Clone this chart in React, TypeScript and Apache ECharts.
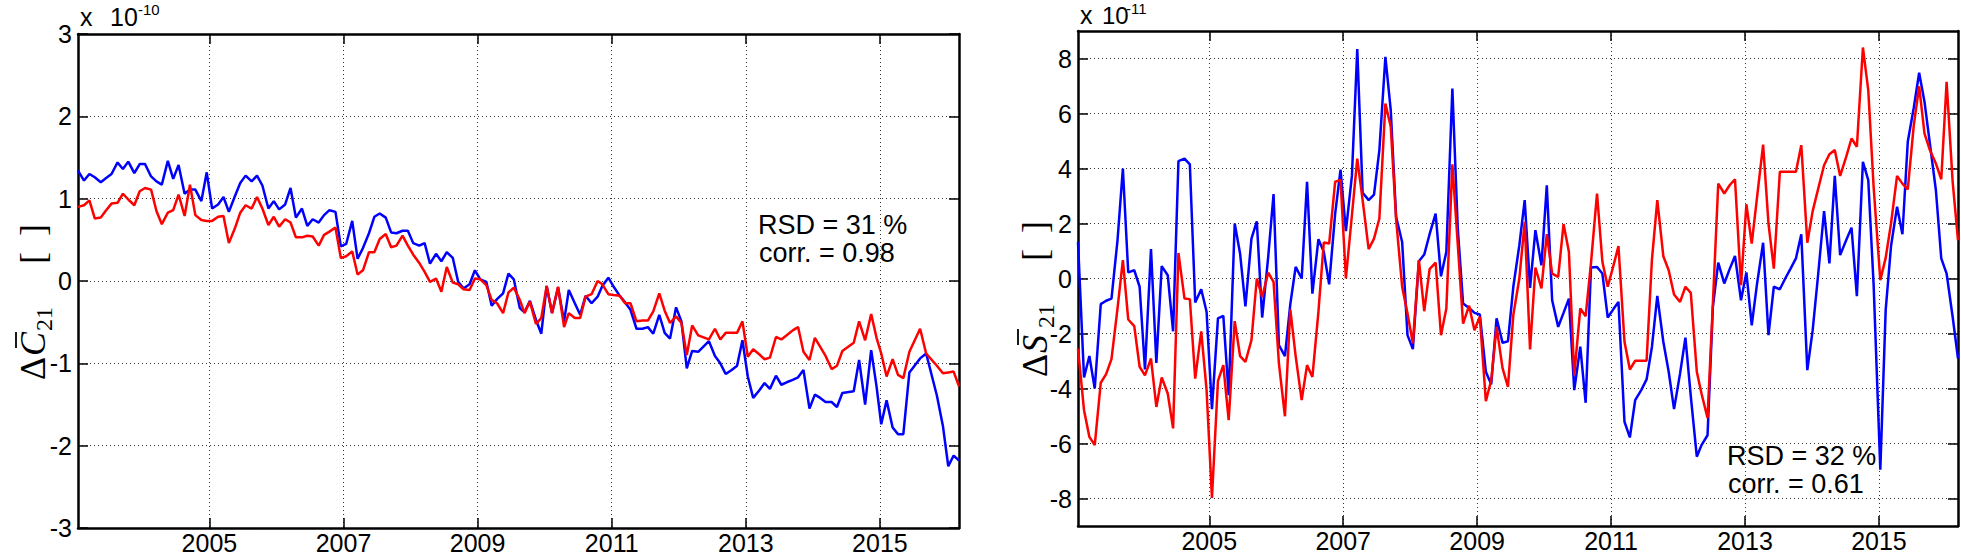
import React, { useEffect, useRef } from "react";
import * as echarts from "echarts";

// ---------- DATA ----------
const yearsEarly = [
  2003.04, 2003.13, 2003.21, 2003.29, 2003.38, 2003.46, 2003.54, 2003.63, 2003.71, 2003.79, 2003.88, 2003.96,
  2004.04, 2004.13, 2004.21, 2004.29, 2004.38, 2004.46, 2004.54, 2004.63, 2004.71, 2004.79, 2004.88, 2004.96,
  2005.04, 2005.13, 2005.21, 2005.29, 2005.38, 2005.46, 2005.54, 2005.63, 2005.71, 2005.79, 2005.88, 2005.96,
  2006.04, 2006.13, 2006.21, 2006.29, 2006.38, 2006.46, 2006.54, 2006.63, 2006.71, 2006.79, 2006.88, 2006.96,
  2007.04, 2007.13, 2007.21, 2007.29, 2007.38, 2007.46, 2007.54, 2007.63, 2007.71, 2007.79, 2007.88, 2007.96,
  2008.04, 2008.13, 2008.21, 2008.29, 2008.38, 2008.46, 2008.54, 2008.63, 2008.71, 2008.79, 2008.88, 2008.96,
  2009.04, 2009.13, 2009.21, 2009.29, 2009.38, 2009.46, 2009.54, 2009.63,
];

const yearsLateC = [
  2009.70, 2009.78, 2009.87, 2009.95, 2010.03, 2010.11, 2010.20, 2010.29, 2010.36, 2010.45,
  2010.53, 2010.61, 2010.70, 2010.79, 2010.86, 2010.95, 2011.03, 2011.12, 2011.20, 2011.28,
  2011.37, 2011.46, 2011.54, 2011.62, 2011.71, 2011.79, 2011.87, 2011.96, 2012.04, 2012.12,
  2012.20, 2012.29, 2012.45, 2012.54, 2012.62, 2012.70, 2012.79, 2012.87, 2012.95, 2013.03,
  2013.11, 2013.20, 2013.28, 2013.36, 2013.45, 2013.53, 2013.61, 2013.70, 2013.78, 2013.86,
  2013.95, 2014.03, 2014.11, 2014.19, 2014.28, 2014.36, 2014.44, 2014.61, 2014.69, 2014.78,
  2014.87, 2014.95, 2015.02, 2015.10, 2015.19, 2015.27, 2015.35, 2015.44, 2015.60, 2015.69,
  2015.85, 2015.94, 2016.02, 2016.10, 2016.18,
];

const yearsLateS = [
  2009.71, 2009.79, 2009.87, 2009.96, 2010.04, 2010.12, 2010.21, 2010.29, 2010.37, 2010.45,
  2010.54, 2010.62, 2010.70, 2010.79, 2010.87, 2010.95, 2011.03, 2011.11, 2011.20, 2011.28,
  2011.36, 2011.45, 2011.53, 2011.61, 2011.69, 2011.78, 2011.86, 2011.94, 2012.03, 2012.11,
  2012.19, 2012.28, 2012.35, 2012.44, 2012.52, 2012.60, 2012.69, 2012.77, 2012.85, 2012.94,
  2013.02, 2013.10, 2013.18, 2013.27, 2013.35, 2013.43, 2013.52, 2013.60, 2013.68, 2013.76,
  2013.84, 2013.93, 2014.01, 2014.09, 2014.18, 2014.26, 2014.34, 2014.42, 2014.51, 2014.59,
  2014.67, 2014.76, 2014.84, 2014.92, 2015.02, 2015.10, 2015.18, 2015.27, 2015.35, 2015.43,
  2015.52, 2015.60, 2015.68, 2015.76, 2015.85, 2015.93, 2016.01, 2016.10, 2016.18,
];

// Delta C21 (x 1e-10)
const c21Blue = [
  1.34, 1.22, 1.30, 1.26, 1.20, 1.25, 1.30, 1.44, 1.36, 1.45,
  1.31, 1.42, 1.42, 1.27, 1.21, 1.17, 1.46, 1.24, 1.41, 1.06,
  1.11, 1.11, 0.97, 1.32, 0.88, 0.93, 1.02, 0.84, 1.03, 1.19,
  1.28, 1.21, 1.28, 1.16, 0.88, 0.97, 0.87, 0.93, 1.13, 0.77,
  0.88, 0.67, 0.75, 0.71, 0.80, 0.86, 0.84, 0.42, 0.45, 0.73,
  0.27, 0.40, 0.58, 0.78, 0.82, 0.77, 0.59, 0.58, 0.61, 0.61,
  0.46, 0.43, 0.46, 0.21, 0.33, 0.24, 0.35, 0.28, -0.01, -0.09,
  -0.04, 0.13, 0.02, -0.01, -0.30, -0.22, -0.15, 0.09, 0.02, -0.33,
  -0.38, -0.24, -0.47, -0.64, -0.06, -0.39, -0.08, -0.49, -0.11, -0.27,
  -0.41, -0.18, -0.27, -0.19, -0.06, 0.04, -0.07, -0.18, -0.26, -0.35,
  -0.58, -0.58, -0.56, -0.64, -0.41, -0.63, -0.70, -0.32, -0.49, -1.06,
  -0.85, -0.86, -0.73, -0.91, -1.00, -1.13, -1.08, -1.03, -0.72, -1.16,
  -1.42, -1.33, -1.24, -1.31, -1.15, -1.26, -1.23, -1.20, -1.17, -1.08,
  -1.55, -1.38, -1.42, -1.47, -1.47, -1.53, -1.36, -1.34, -0.96, -1.50,
  -0.84, -1.28, -1.74, -1.45, -1.78, -1.86, -1.86, -1.11, -0.94, -0.88,
  -1.39, -1.76, -2.25, -2.12, -2.18,
];
const c21Red = [
  0.90, 0.92, 0.98, 0.76, 0.77, 0.86, 0.94, 0.95, 1.06, 0.99,
  0.92, 1.09, 1.13, 1.11, 0.85, 0.69, 0.83, 0.86, 1.05, 0.79,
  1.17, 0.80, 0.74, 0.73, 0.73, 0.78, 0.79, 0.46, 0.64, 0.83,
  0.92, 0.88, 1.02, 0.88, 0.68, 0.78, 0.66, 0.75, 0.71, 0.53,
  0.53, 0.55, 0.54, 0.43, 0.56, 0.60, 0.65, 0.28, 0.30, 0.36,
  0.08, 0.13, 0.35, 0.35, 0.51, 0.57, 0.41, 0.43, 0.55, 0.43,
  0.32, 0.22, 0.11, -0.01, 0.03, -0.13, 0.17, -0.02, -0.04, -0.10,
  -0.11, 0.03, 0.02, -0.05, -0.23, -0.27, -0.39, -0.14, -0.08, -0.23,
  -0.39, -0.25, -0.52, -0.45, -0.06, -0.39, -0.07, -0.56, -0.39, -0.45,
  -0.45, -0.19, -0.16, 0.00, -0.04, -0.16, -0.17, -0.18, -0.27, -0.27,
  -0.49, -0.48, -0.48, -0.37, -0.15, -0.36, -0.51, -0.43, -0.51, -0.90,
  -0.54, -0.66, -0.71, -0.58, -0.71, -0.63, -0.63, -0.63, -0.49, -0.92,
  -0.83, -0.89, -0.95, -0.93, -0.68, -0.71, -0.66, -0.60, -0.56, -0.86,
  -0.96, -0.69, -0.80, -0.91, -1.07, -1.03, -0.85, -0.75, -0.49, -0.72,
  -0.40, -0.69, -0.88, -1.16, -0.95, -1.14, -1.18, -0.86, -0.58, -0.88,
  -1.03, -1.12, -1.11, -1.10, -1.28,
];

// Delta S21 (x 1e-11)
const s21Blue = [
  1.33, -3.60, -2.82, -4.00, -0.93, -0.81, -0.73, 1.39, 4.00, 0.22,
  0.30, -0.30, -3.31, 1.07, -3.07, 0.45, 0.12, -1.92, 4.27, 4.36,
  4.15, -0.87, -0.39, -1.21, -4.75, -1.45, -1.36, -4.24, 2.00, 0.91,
  -1.01, 1.45, 2.08, -1.42, 0.79, 3.07, -2.42, -2.82, -0.93, 0.42,
  0.00, 3.52, -0.55, 1.43, 0.97, -0.21, 2.36, 3.96, 1.72, 3.73,
  8.34, 3.12, 2.85, 3.05, 4.67, 8.06, 6.12, 2.24, 1.33, -2.06,
  -2.57, 0.63, 0.87, 1.61, 2.36, 0.08, 0.97, 6.91, 1.85, -0.91,
  -1.07, -1.25, -1.31, -3.39, -3.85, -1.45, -2.34, -2.28, -0.30, 1.21,
  2.85, -0.34, 1.76, 0.48, 3.39, -0.79, -1.76, -1.25, -0.73, -4.06,
  -2.48, -4.52, 0.40, 0.42, 0.18, -1.42, -1.13, -0.85, -5.21, -5.78,
  -4.42, -4.06, -3.67, -2.48, -0.63, -2.30, -3.39, -4.75, -3.45, -2.15,
  -4.28, -6.48, -6.06, -5.70, -1.03, 0.58, -0.18, 0.34, 0.82, -0.79,
  0.22, -1.70, -0.18, 1.30, -2.06, -0.30, -0.39, 0.00, 0.36, 0.73,
  1.61, -3.33, -1.88, 0.10, 2.45, 0.55, 3.73, 0.85, 1.39, 1.85,
  -0.64, 4.24, 3.58, -0.22, -6.95, -1.15, 1.18, 2.61, 1.61, 4.97,
  6.22, 7.48, 6.42, 4.91, 3.21, 0.73, 0.18, -1.39, -2.91,
];
const s21Red = [
  -2.55, -4.79, -5.76, -6.06, -3.79, -3.48, -2.93, -1.09, 0.67, -1.49,
  -1.73, -3.21, -3.52, -2.91, -4.67, -3.60, -4.18, -5.45, 0.93, -0.73,
  -0.75, -3.64, -1.92, -4.06, -7.98, -3.72, -3.15, -5.15, -1.55, -2.82,
  -3.03, -2.24, 0.00, -0.67, 0.21, -0.12, -3.09, -5.01, -1.12, -2.82,
  -4.42, -3.15, -3.58, -1.21, 1.31, 1.27, 3.52, 3.58, 0.00, 2.30,
  4.36, 2.85, 1.07, 1.45, 2.18, 6.36, 5.52, 2.15, -0.30, -1.27,
  -2.36, 0.67, -1.19, 0.34, 0.58, -2.06, -1.09, 4.15, 1.27, -1.64,
  -0.99, -1.88, -1.39, -4.46, -3.70, -1.76, -3.27, -3.94, -1.33, 0.00,
  2.06, -2.58, 0.40, -0.36, 1.61, 0.18, 0.06, 1.98, 0.97, -3.52,
  -1.09, -1.37, 0.57, 3.09, 0.61, -0.30, 0.42, 1.18, -2.30, -3.31,
  -2.99, -2.99, -2.99, 0.69, 2.85, 0.81, 0.30, -0.58, -0.85, -0.30,
  -0.52, -3.39, -4.18, -5.07, -0.91, 3.45, 3.09, 3.39, 3.61, -0.24,
  2.70, 1.27, 2.97, 4.87, 2.00, 0.36, 3.88, 3.88, 3.88, 3.88,
  4.85, 1.30, 2.45, 3.24, 4.12, 4.52, 4.67, 3.73, 4.42, 5.09,
  4.79, 8.40, 6.85, 3.33, -0.06, 0.75, 2.00, 3.73, 3.45, 3.24,
  5.58, 6.99, 5.27, 4.67, 4.18, 3.61, 7.15, 3.52, 1.39,
];

const xTickYears = [2005, 2007, 2009, 2011, 2013, 2015];
const cTicks = [-3, -2, -1, 0, 1, 2, 3];
const sTicks = [-8, -6, -4, -2, 0, 2, 4, 6, 8];

// ---------- HELPERS ----------
const SANS = '"Liberation Sans", Arial, Helvetica, sans-serif';
const SERIF = '"Liberation Serif", "DejaVu Serif", serif';
const BLUE = "#0000ff";
const RED = "#ff0000";

function zip(xs: number[], ys: number[]) {
  return xs.map((x, i) => [x, ys[i]]);
}

function axisPair(kind: "x" | "y", gridIndex: number, min: number, max: number, ticks: number[]) {
  const common = {
    type: "value",
    gridIndex,
    min,
    max,
    axisLine: { show: true, onZero: false, lineStyle: { color: "#000", width: 2.5 } },
    axisTick: {
      show: true,
      inside: true,
      length: 10,
      customValues: ticks,
      lineStyle: { color: "#000", width: 1.5 },
    },
  };
  const main = {
    ...common,
    position: kind === "x" ? "bottom" : "left",
    axisLabel: {
      show: true,
      customValues: ticks,
      formatter: (v: number) => String(v),
      color: "#000",
      fontFamily: SANS,
      fontSize: 25,
      margin: kind === "x" ? 2 : 6,
    },
    splitLine: { show: true, lineStyle: { color: "#333", width: 1, type: [1, 3] } },
  };
  const mirror = {
    ...common,
    position: kind === "x" ? "top" : "right",
    axisLabel: { show: false },
    splitLine: { show: false },
  };
  return [main, mirror];
}

// rotated y-axis title: "Δ X̄21 [ ]" (reads bottom to top)
function yLabelGroup(gx: number, gy: number, letter: string) {
  const main = "36px " + SERIF;
  const base = { fill: "#000", textAlign: "left", textVerticalAlign: "middle" };
  return {
    type: "group",
    x: gx,
    y: gy,
    rotation: Math.PI / 2,
    silent: true,
    children: [
      { type: "text", x: -80, y: 0, style: { ...base, text: "Δ", font: main } },
      { type: "text", x: -56, y: 0, style: { ...base, text: letter, font: "italic " + main } },
      { type: "line", shape: { x1: -48, y1: -17, x2: -32, y2: -17 }, style: { stroke: "#000", lineWidth: 1.8 } },
      { type: "text", x: -31, y: 11, style: { ...base, text: "21", font: "24px " + SERIF } },
      { type: "text", x: 36, y: 0, style: { ...base, text: "[", font: main } },
      { type: "text", x: 64, y: 0, style: { ...base, text: "]", font: main } },
    ],
  };
}

function txt(x: number, y: number, text: string, size: number) {
  return {
    type: "text",
    x,
    y,
    silent: true,
    style: { text, font: size + "px " + SANS, fill: "#000", textAlign: "left", textVerticalAlign: "middle" },
  };
}

export default function App() {
  const ref = useRef<HTMLDivElement>(null);

  useEffect(() => {
    if (!ref.current) return;
    const chart = echarts.init(ref.current, null, { renderer: "svg" });

    const cYears = yearsEarly.concat(yearsLateC);
    const sYears = yearsEarly.concat(yearsLateS);
    const xMin = yearsEarly[0];
    const xMaxC = yearsLateC[yearsLateC.length - 1];
    const xMaxS = yearsLateS[yearsLateS.length - 1];

    const [x0, x1] = axisPair("x", 0, xMin, xMaxC, xTickYears);
    const [y0, y1] = axisPair("y", 0, -3, 3, cTicks);
    const [x2, x3] = axisPair("x", 1, xMin, xMaxS, xTickYears);
    const [y2, y3] = axisPair("y", 1, -9, 9, sTicks);

    const lineSeries = (xi: number, yi: number, data: number[][], color: string, z: number) => ({
      type: "line",
      xAxisIndex: xi,
      yAxisIndex: yi,
      data,
      symbol: "none",
      showSymbol: false,
      clip: true,
      lineStyle: { color, width: 2.5 },
      itemStyle: { color },
      z,
    });

    chart.setOption({
      animation: false,
      backgroundColor: "#fff",
      grid: [
        { left: 78, top: 34, width: 881, height: 494, outerBoundsMode: "none", containLabel: false },
        { left: 1078, top: 31, width: 880, height: 495, outerBoundsMode: "none", containLabel: false },
      ],
      xAxis: [x0, x1, x2, x3],
      yAxis: [y0, y1, y2, y3],
      series: [
        lineSeries(0, 0, zip(cYears, c21Blue), BLUE, 2),
        lineSeries(0, 0, zip(cYears, c21Red), RED, 3),
        lineSeries(2, 2, zip(sYears, s21Blue), BLUE, 2),
        lineSeries(2, 2, zip(sYears, s21Red), RED, 3),
      ],
      graphic: [
        txt(80, 17, "x", 25),
        txt(110, 17, "10", 25),
        txt(138, 9, "-10", 15),
        txt(1080, 15, "x", 25),
        txt(1102, 15, "10", 24),
        txt(1126, 8, "-11", 15),
        txt(758, 225, "RSD = 31 %", 27),
        txt(759, 253, "corr. = 0.98", 27),
        txt(1727, 456, "RSD = 32 %", 27),
        txt(1728, 484, "corr. = 0.61", 27),
        yLabelGroup(33, 300, "C"),
        yLabelGroup(1035, 297, "S"),
      ],
    });

    return () => chart.dispose();
  }, []);

  return (
    <div
      ref={ref}
      style={{ position: "fixed", left: 0, top: 0, width: 1961, height: 557, background: "#fff" }}
    />
  );
}
